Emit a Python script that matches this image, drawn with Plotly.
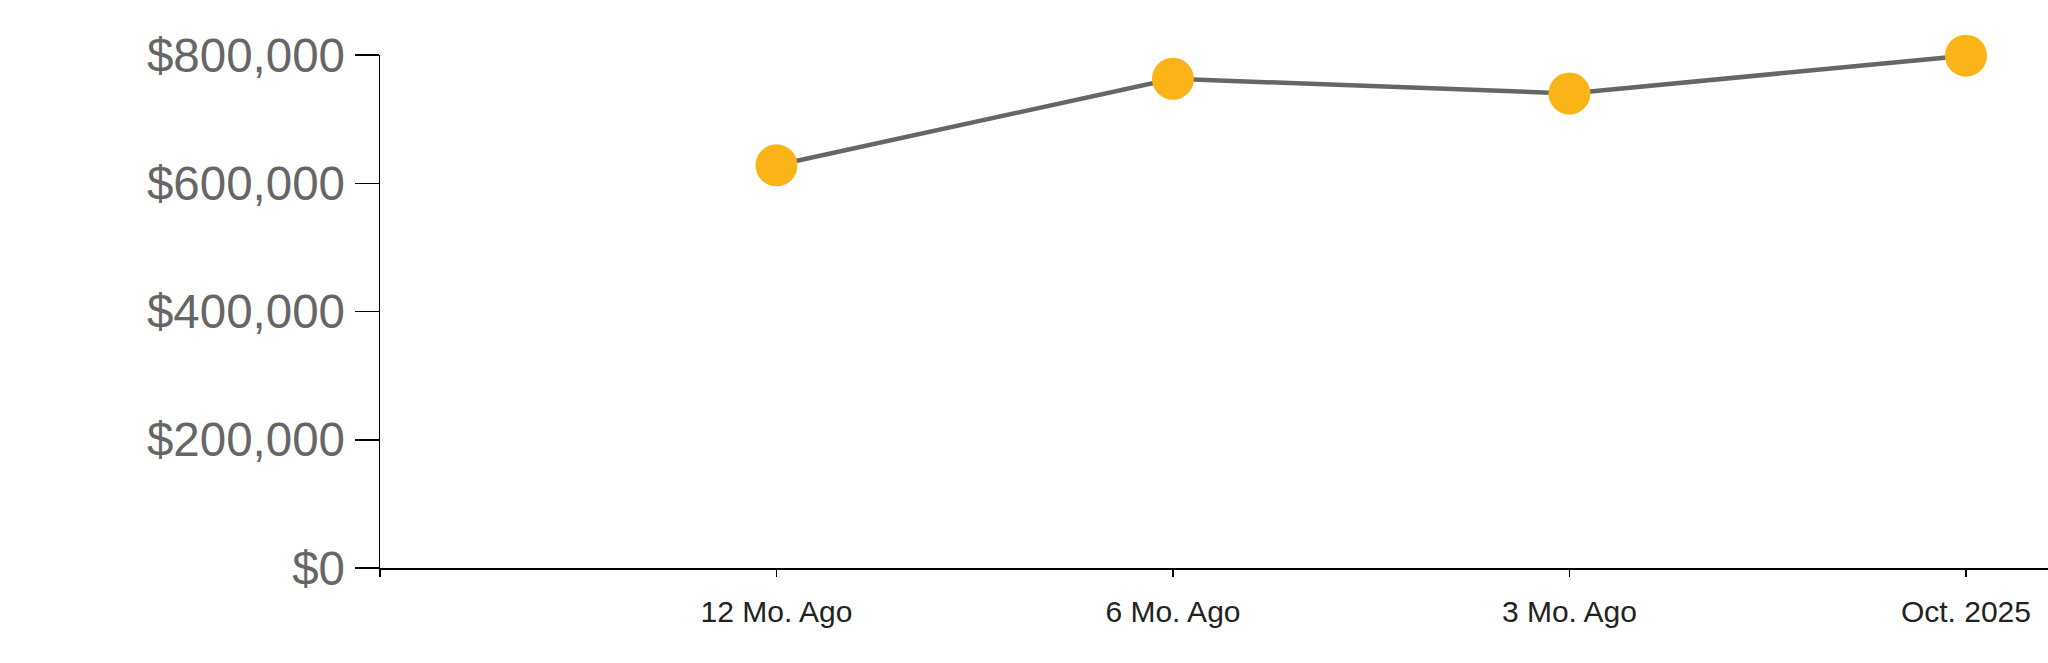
import plotly.graph_objects as go

categories = ["12 Mo. Ago", "6 Mo. Ago", "3 Mo. Ago", "Oct. 2025"]
values = [628000, 763000, 740000, 799000]
y_ticks = [0, 200000, 400000, 600000, 800000]
y_tick_labels = ["$0", "$200,000", "$400,000", "$600,000", "$800,000"]

fig = go.Figure()
fig.add_trace(go.Scatter(
    x=categories, y=values, mode="lines+markers",
    line=dict(color="#666666", width=4.5),
    marker=dict(color="#FBB417", size=42, line=dict(width=0)),
    cliponaxis=False, showlegend=False, hoverinfo="skip",
))

fig.update_layout(
    width=2048, height=663,
    margin=dict(l=380, r=0, t=55, b=95, autoexpand=False),
    paper_bgcolor="white", plot_bgcolor="white",
    font=dict(family="Liberation Sans, Arial, sans-serif"),
)
fig.update_xaxes(
    type="category",
    categoryorder="array", categoryarray=categories,
    range=[-1, 3.207],
    tickmode="array", tickvals=[-1, 0, 1, 2, 3], ticktext=[""] + categories,
    showline=True, linecolor="#000000", linewidth=1.5,
    ticks="outside", ticklen=7, tickcolor="#000000", tickwidth=1.5,
    tickfont=dict(size=30, color="#222222"),
    showgrid=False, zeroline=False,
    ticklabelstandoff=9,
)
fig.update_yaxes(
    range=[0, 800000],
    tickmode="array", tickvals=y_ticks, ticktext=y_tick_labels,
    showline=True, linecolor="#000000", linewidth=1.5,
    ticks="outside", ticklen=24, tickcolor="#000000", tickwidth=1.5,
    tickfont=dict(size=47.5, color="#666666"),
    showgrid=False, zeroline=False,
    ticklabelstandoff=0,
)

fig.write_html(
    "out.html",
    config={"displayModeBar": False, "staticPlot": True},
    post_script="document.body.style.margin='0';document.body.style.overflow='hidden';",
)
